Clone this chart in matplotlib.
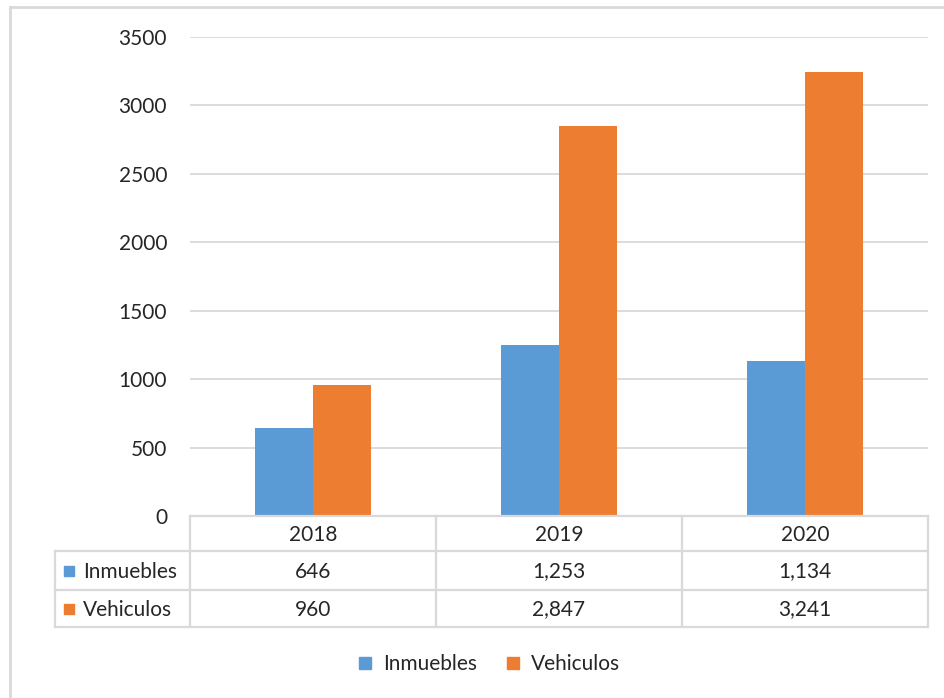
import matplotlib.pyplot as plt
from matplotlib.patches import Rectangle
from matplotlib.lines import Line2D

plt.rcParams['font.family'] = ['Lato', 'DejaVu Sans']

anos = ['2018', '2019', '2020']
series = ['Inmuebles', 'Vehiculos']
inmuebles = [646, 1253, 1134]
vehiculos = [960, 2847, 3241]
colores = ['#5B9BD5', '#ED7D31']
yticks = [0, 500, 1000, 1500, 2000, 2500, 3000, 3500]

W, H = 944, 698
fig = plt.figure(figsize=(W / 100, H / 100), dpi=100)

def px(l, t, r, b):
    return [l / W, 1 - b / H, (r - l) / W, (b - t) / H]

gris = '#d9d9d9'
texto = '#262626'
fs = 15

# grafico de barras
ax = fig.add_axes(px(190, 37, 928, 516))
x = range(len(anos))
ancho = 0.236
ax.bar([i - ancho / 2 for i in x], inmuebles, ancho, color=colores[0], zorder=3)
ax.bar([i + ancho / 2 for i in x], vehiculos, ancho, color=colores[1], zorder=3)
ax.set_xlim(-0.5, len(anos) - 0.5)
ax.set_ylim(0, 3500)
ax.set_yticks(yticks)
ax.set_yticklabels([str(v) for v in yticks], fontsize=fs, color=texto)
ax.tick_params(axis='y', length=0, pad=16.5)
ax.set_xticks([])
ax.grid(axis='y', color=gris, lw=1.3, zorder=0)
for s in ax.spines.values():
    s.set_visible(False)

# tabla de datos
tb = fig.add_axes(px(55, 516, 928, 627))
tb.set_xlim(55, 928)
tb.set_ylim(627, 516)
tb.axis('off')
cols = [190, 436, 682, 928]
filas = [516, 551, 590, 627]
kw = dict(color=gris, lw=1.6, clip_on=False)
tb.plot([190, 928], [filas[0]] * 2, **kw)
for yy in filas[1:]:
    tb.plot([55, 928], [yy, yy], **kw)
tb.plot([55, 55], [filas[1], filas[3]], **kw)
for xx in cols:
    tb.plot([xx, xx], [filas[0], filas[3]], **kw)

for i, a in enumerate(anos):
    cx = (cols[i] + cols[i + 1]) / 2
    tb.text(cx, (filas[0] + filas[1]) / 2 + 1, a, ha='center', va='center', fontsize=fs, color=texto)
    for j, vals in enumerate([inmuebles, vehiculos]):
        tb.text(cx, (filas[j + 1] + filas[j + 2]) / 2 + 1, f'{vals[i]:,}',
                ha='center', va='center', fontsize=fs, color=texto)

for j, nombre in enumerate(series):
    cy = (filas[j + 1] + filas[j + 2]) / 2
    tb.add_patch(Rectangle((64, cy - 5), 10, 10, color=colores[j], clip_on=False))
    tb.text(83, cy + 1, nombre, ha='left', va='center', fontsize=fs, color=texto)

# leyenda
handles = [Line2D([], [], ls='', marker='s', markersize=8, color=c) for c in colores]
fig.legend(handles, series, loc='center', bbox_to_anchor=(489 / W, 1 - 664 / H),
           ncol=2, frameon=False, fontsize=fs, handlelength=0.7, handletextpad=0.5,
           columnspacing=1.4, labelcolor=texto)

# marco exterior
fig.add_artist(Line2D([10 / W, 1], [1 - 7 / H] * 2, color=gris, lw=2))
fig.add_artist(Line2D([10 / W] * 2, [0, 1 - 7 / H], color=gris, lw=2))

fig.savefig('out.png', dpi=100)
